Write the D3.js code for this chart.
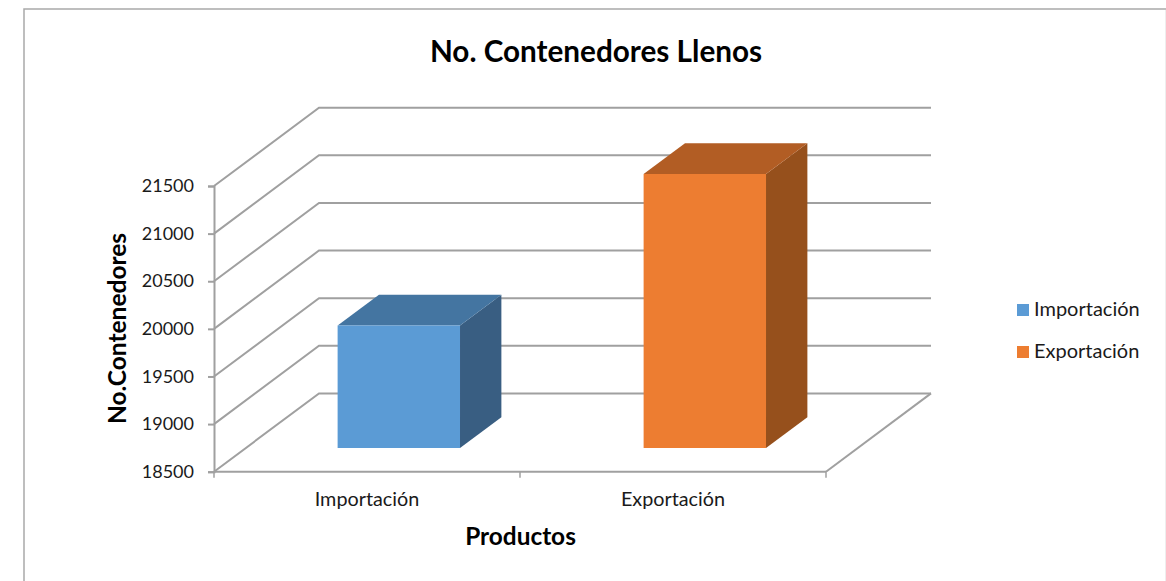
<!DOCTYPE html>
<html>
<head>
<meta charset="utf-8">
<script src="https://cdn.jsdelivr.net/npm/d3@7"></script>
<style>
    body { margin: 0; background: #fff; }
    text { font-family: Lato, "Open Sans", sans-serif; fill: #1a1a1a; }
    .chart-title { fill: #000; font-weight: 700; }
</style>
</head>
<body>
<script>
const categories = ['Importación', 'Exportación'];
const values = [19785, 21377];
const colors = ['#5b9bd5', '#ed7d31'];
const topColors = ['#4475a1', '#b25d24'];
const sideColors = ['#395e82', '#96501c'];
const yTicks = [18500, 19000, 19500, 20000, 20500, 21000, 21500];

const width = 1166;
const height = 581;
const gridColor = '#a0a0a0';

const svg = d3.select('body')
    .append('svg')
    .attr('width', width)
    .attr('height', height)
    .style('display', 'block');

// chart frame, the bottom is cut off in the original and the right edge is very faint
svg.append('path')
    .attr('d', `M24,${height}V9H${width}`)
    .attr('fill', 'none')
    .attr('stroke', '#a9a9a9')
    .attr('stroke-width', 1.5);
svg.append('line')
    .attr('x1', 1165.5)
    .attr('x2', 1165.5)
    .attr('y1', 10)
    .attr('y2', height)
    .attr('stroke', '#eeeeee');

const x = d3.scaleBand()
    .domain(categories)
    .range([214, 826])
    .paddingInner(0.6)
    .paddingOuter(0.3);

const y = d3.scaleLinear()
    .domain([18500, 21500])
    .range([471.7, 186]);

// depth goes from the front plane (0) to the back wall (1)
const depthX = d3.scaleLinear().domain([0, 1]).range([0, 105]);
const depthY = d3.scaleLinear().domain([0, 1]).range([0, -78.3]);
const barFront = 0.303;
const barBack = 0.697;

// walls and floor
const walls = svg.append('g')
    .attr('fill', 'none')
    .attr('stroke', gridColor)
    .attr('stroke-width', 2);

walls.selectAll('path.grid')
    .data(yTicks)
    .enter()
    .append('path')
    .attr('class', 'grid')
    .attr('d', d => `M${x.range()[0]},${y(d)}L${x.range()[0] + depthX(1)},${y(d) + depthY(1)}H${x.range()[1] + depthX(1)}`);

walls.append('path')
    .attr('d', `M${x.range()[1]},${y(18500)}L${x.range()[1] + depthX(1)},${y(18500) + depthY(1)}`);

// y axis
const yAxis = svg.append('g')
    .attr('transform', `translate(${x.range()[0]},0)`)
    .call(d3.axisLeft(y).tickValues(yTicks).tickFormat(d3.format('d')).tickSize(6).tickPadding(14));
yAxis.selectAll('path, line').attr('stroke', gridColor).attr('stroke-width', 2);
yAxis.selectAll('text').style('font-size', '18px').attr('font-family', null);

// x axis, ticks sit on the boundaries between the categories
const xBoundaries = [x.range()[0], x.range()[0] + x.step(), x.range()[1]];
svg.append('line')
    .attr('x1', x.range()[0])
    .attr('x2', x.range()[1])
    .attr('y1', y(18500))
    .attr('y2', y(18500))
    .attr('stroke', gridColor)
    .attr('stroke-width', 2);
svg.selectAll('line.x-tick')
    .data(xBoundaries)
    .enter()
    .append('line')
    .attr('class', 'x-tick')
    .attr('x1', d => d)
    .attr('x2', d => d)
    .attr('y1', y(18500))
    .attr('y2', y(18500) + 6)
    .attr('stroke', gridColor)
    .attr('stroke-width', 1.5);
svg.selectAll('text.x-label')
    .data(categories)
    .enter()
    .append('text')
    .attr('class', 'x-label')
    .attr('x', d => x(d) + x.bandwidth() / 2)
    .attr('y', 506)
    .attr('text-anchor', 'middle')
    .style('font-size', '19.8px')
    .text(d => d);

// bars: front, top and side faces
const bars = svg.selectAll('g.bar')
    .data(categories.map((c, i) => ({ c, i, v: values[i] })))
    .enter()
    .append('g')
    .attr('class', 'bar');

function point(px, value, depth)
{
    return [px + depthX(depth), y(value) + depthY(depth)];
}

function face(points)
{
    return d3.line()(points) + 'Z';
}

bars.append('path')
    .attr('fill', d => sideColors[d.i])
    .attr('d', d =>
    {
        const right = x(d.c) + x.bandwidth();
        return face([point(right, d.v, barFront), point(right, d.v, barBack),
            point(right, 18500, barBack), point(right, 18500, barFront)]);
    });

bars.append('path')
    .attr('fill', d => topColors[d.i])
    .attr('d', d =>
    {
        const left = x(d.c);
        const right = left + x.bandwidth();
        return face([point(left, d.v, barFront), point(left, d.v, barBack),
            point(right, d.v, barBack), point(right, d.v, barFront)]);
    });

bars.append('path')
    .attr('fill', d => colors[d.i])
    .attr('d', d =>
    {
        const left = x(d.c);
        const right = left + x.bandwidth();
        return face([point(left, d.v, barFront), point(right, d.v, barFront),
            point(right, 18500, barFront), point(left, 18500, barFront)]);
    });

// titles
svg.append('text')
    .attr('class', 'chart-title')
    .attr('x', 596)
    .attr('y', 62)
    .attr('text-anchor', 'middle')
    .style('font-size', '29.7px')
    .text('No. Contenedores Llenos');

svg.append('text')
    .attr('class', 'chart-title')
    .attr('x', 520.5)
    .attr('y', 545)
    .attr('text-anchor', 'middle')
    .style('font-size', '24.4px')
    .text('Productos');

svg.append('text')
    .attr('class', 'chart-title')
    .attr('transform', 'translate(126,328.5) rotate(-90)')
    .attr('text-anchor', 'middle')
    .style('font-size', '24.5px')
    .text('No.Contenedores');

// legend
const legend = svg.selectAll('g.legend')
    .data(categories)
    .enter()
    .append('g')
    .attr('class', 'legend')
    .attr('transform', (d, i) => `translate(1017,${304 + i * 42})`);

legend.append('rect')
    .attr('width', 12)
    .attr('height', 12)
    .attr('fill', (d, i) => colors[i]);

legend.append('text')
    .attr('x', 17)
    .attr('y', 12)
    .style('font-size', '20px')
    .text(d => d);
</script>
</body>
</html>
